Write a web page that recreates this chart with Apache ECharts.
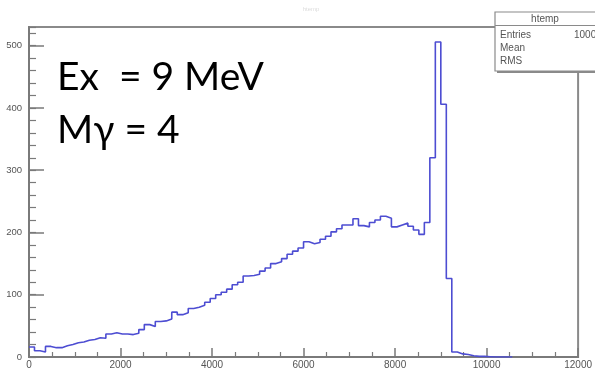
<!DOCTYPE html>
<html>
<head>
<meta charset="utf-8">
<script src="https://cdn.jsdelivr.net/npm/echarts@6/dist/echarts.min.js"></script>
<style>
html,body{margin:0;padding:0;background:#fff;}
#chart{width:595px;height:375px;}
</style>
</head>
<body>
<div id="chart"></div>
<script>
// ---- data ----
const binWidth = 120;              // histogram bin width (x units)
const counts = [
  16, 10, 8, 17, 15, 15, 18, 20, 23, 24,
  27, 28, 31, 30, 37, 39, 37, 37, 36, 38,
  44, 52, 49, 57, 58, 61, 72, 68, 71, 78,
  80, 83, 88, 94, 100, 104, 109, 116, 120, 130,
  131, 133, 138, 143, 150, 153, 158, 165, 170, 175,
  185, 182, 184, 189, 194, 201, 206, 212, 212, 222,
  211, 209, 216, 220, 226, 223, 209, 212, 215, 210,
  204, 197, 216, 320, 506, 406, 126, 8, 5, 4,
  2, 1, 1, 0.5, 0, 0, 0, 0
];
const xTicks = [0, 2000, 4000, 6000, 8000, 10000, 12000];
const yTickLabels = ["0", "100", "200", "300", "400", "500"];
const statsTitle = "htemp";
const statsRows = ["Entries", "Mean", "RMS"];
const statsEntries = "10000";
const note1 = "Ex  = 9 MeV";
const note2 = "M\u03B3 = 4";

// ---- build step data ----
const stepData = counts.map((v, i) => [i * binWidth, v]);
stepData.push([counts.length * binWidth, counts[counts.length - 1]]);

const chart = echarts.init(document.getElementById('chart'), null, {renderer: 'canvas'});
const axisGrey = '#7a7a7a';
const labelGrey = '#555';

const option = {
  animation: false,
  backgroundColor: '#fff',
  title: {
    text: statsTitle, left: 306, top: 1, textAlign: 'center',
    textStyle: {fontSize: 6, color: '#dcdcdc', fontWeight: 'normal', fontFamily: 'Liberation Sans'}
  },
  grid: {left: 29, right: 16, top: 27, bottom: 18, show: true, borderColor: '#8a8a8a', borderWidth: 2, backgroundColor: 'transparent'},
  xAxis: [{
    type: 'value', min: xTicks[0], max: xTicks[xTicks.length - 1], interval: 2000,
    axisLine: {show: true, onZero: false, lineStyle: {color: axisGrey, width: 2}},
    axisTick: {show: true, inside: true, length: 9, lineStyle: {color: axisGrey, width: 1.5}},
    minorTick: {show: true, splitNumber: 4, length: 5, lineStyle: {color: axisGrey, width: 1.2}},
    splitLine: {show: false},
    axisLabel: {color: labelGrey, fontSize: 10, fontFamily: 'Liberation Sans', margin: 3, showMaxLabel: true, hideOverlap: false,
      formatter: (v) => String(v)}
  }],
  yAxis: [{
    type: 'value', min: 0, max: 530, interval: 100,
    axisLine: {show: true, onZero: false, lineStyle: {color: axisGrey, width: 2}},
    axisTick: {show: true, inside: true, length: 15, lineStyle: {color: axisGrey, width: 1.5}},
    splitLine: {show: false},
    axisLabel: {color: labelGrey, fontSize: 9.5, fontFamily: 'Liberation Sans', margin: 7, showMaxLabel: false,
      formatter: (v) => { const i = Math.round(v / 100); return yTickLabels[i] !== undefined ? yTickLabels[i] : ''; }}
  }, {
    type: 'value', min: 0, max: 530, interval: 20, position: 'left',
    axisLine: {show: false},
    axisTick: {show: true, inside: true, length: 7, lineStyle: {color: axisGrey, width: 1.2}},
    splitLine: {show: false},
    axisLabel: {show: false}
  }],
  series: [{
    type: 'line', step: 'end', data: stepData, symbol: 'none', xAxisIndex: 0, yAxisIndex: 0,
    lineStyle: {color: '#4d4dd2', width: 1.6}, clip: true
  }],
  graphic: [
    {type: 'text', x: 57, y: 77, style: {text: note1, fontSize: 39, fontFamily: 'Lato', fill: '#000', verticalAlign: 'middle'}},
    {type: 'text', x: 57, y: 130, style: {text: note2, fontSize: 39, fontFamily: 'Lato', fill: '#000', verticalAlign: 'middle'}},
    // stats box shadow + box
    {type: 'rect', shape: {x: 497, y: 14, width: 110, height: 59}, style: {fill: '#8a8a8a'}, z: 10},
    {type: 'rect', shape: {x: 495, y: 12, width: 110, height: 59}, style: {fill: '#fff', stroke: '#8a8a8a', lineWidth: 1.2}, z: 11},
    {type: 'line', shape: {x1: 495, y1: 25.5, x2: 605, y2: 25.5}, style: {stroke: '#8a8a8a', lineWidth: 1.2}, z: 12},
    {type: 'text', x: 545, y: 19, style: {text: statsTitle, fontSize: 10, fontFamily: 'Liberation Sans', fill: labelGrey, align: 'center', verticalAlign: 'middle'}, z: 12},
    {type: 'text', x: 500, y: 35, style: {text: statsRows[0], fontSize: 10, fontFamily: 'Liberation Sans', fill: labelGrey, verticalAlign: 'middle'}, z: 12},
    {type: 'text', x: 500, y: 48, style: {text: statsRows[1], fontSize: 10, fontFamily: 'Liberation Sans', fill: labelGrey, verticalAlign: 'middle'}, z: 12},
    {type: 'text', x: 500, y: 61, style: {text: statsRows[2], fontSize: 10, fontFamily: 'Liberation Sans', fill: labelGrey, verticalAlign: 'middle'}, z: 12},
    {type: 'text', x: 574, y: 35, style: {text: statsEntries, fontSize: 10, fontFamily: 'Liberation Sans', fill: labelGrey, verticalAlign: 'middle'}, z: 12}
  ]
};
chart.setOption(option);
</script>
</body>
</html>
